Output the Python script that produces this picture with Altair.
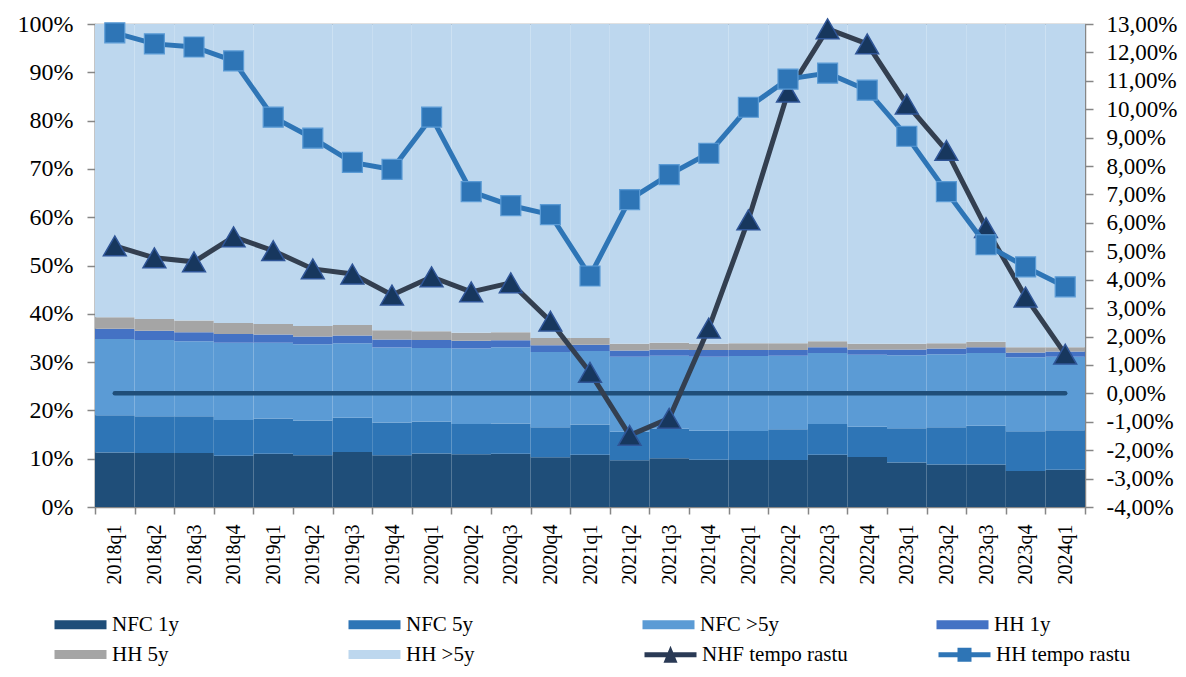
import altair as alt
import pandas as pd

categories = ["2018q1", "2018q2", "2018q3", "2018q4", "2019q1", "2019q2", "2019q3", "2019q4",
              "2020q1", "2020q2", "2020q3", "2020q4", "2021q1", "2021q2", "2021q3", "2021q4",
              "2022q1", "2022q2", "2022q3", "2022q4", "2023q1", "2023q2", "2023q3", "2023q4", "2024q1"]

# shares of the stacked columns, in percent
nfc_1y = [11.3, 11.2, 11.2, 10.6, 11.0, 10.7, 11.4, 10.7, 11.1, 10.9, 11.0, 10.3, 10.8,
          9.7, 10.1, 9.8, 9.75, 9.75, 10.8, 10.35, 9.2, 8.8, 8.8, 7.45, 7.7]
nfc_5y = [7.7, 7.6, 7.6, 7.4, 7.3, 7.2, 7.1, 6.8, 6.6, 6.3, 6.3, 6.2, 6.3,
          5.9, 6.1, 6.0, 6.0, 6.35, 6.4, 6.25, 7.1, 7.7, 8.0, 8.25, 8.2]
nfc_gt5y = [15.8, 15.8, 15.5, 16.0, 15.7, 15.8, 15.4, 15.5, 15.2, 15.6, 15.8, 15.6, 15.2,
            15.5, 15.1, 15.3, 15.5, 15.2, 14.7, 14.9, 15.1, 15.1, 15.1, 15.3, 15.2]
hh_1y = [2.1, 1.9, 1.9, 1.8, 1.7, 1.6, 1.6, 1.7, 1.7, 1.6, 1.4, 1.4, 1.3,
         1.3, 1.3, 1.4, 1.25, 1.2, 1.2, 1.1, 1.2, 1.2, 1.2, 1.0, 1.1]
hh_5y = [2.4, 2.4, 2.4, 2.3, 2.2, 2.2, 2.2, 1.9, 1.8, 1.7, 1.7, 1.5, 1.4,
         1.4, 1.4, 1.3, 1.4, 1.4, 1.2, 1.2, 1.2, 1.1, 1.1, 1.1, 0.9]
# HH >5y is the remainder up to 100%
hh_gt5y = [round(100 - (a + b + c + d + e), 2)
           for a, b, c, d, e in zip(nfc_1y, nfc_5y, nfc_gt5y, hh_1y, hh_5y)]

# growth rates, in percent (right axis)
nhf_rate = [5.19, 4.77, 4.63, 5.51, 5.02, 4.38, 4.20, 3.46, 4.10, 3.57, 3.89, 2.54, 0.74,
            -1.48, -0.88, 2.30, 6.11, 10.60, 12.83, 12.30, 10.18, 8.55, 5.83, 3.39, 1.38]
hh_rate = [12.69, 12.30, 12.19, 11.70, 9.72, 8.98, 8.13, 7.88, 9.72, 7.10, 6.61, 6.29, 4.13,
           6.82, 7.70, 8.45, 10.07, 11.06, 11.27, 10.67, 9.05, 7.10, 5.23, 4.45, 3.75]

series_names = ["NFC 1y", "NFC 5y", "NFC >5y", "HH 1y", "HH 5y", "HH >5y"]
area_colors = ["#1f4e79", "#2e75b6", "#5b9bd5", "#4472c4", "#a5a5a5", "#bdd7ee"]
line_names = ["NHF tempo rastu", "HH tempo rastu"]

FONT = "Liberation Serif"
GRAY = "#868686"

rows = []
for k, (name, vals) in enumerate(zip(series_names, [nfc_1y, nfc_5y, nfc_gt5y, hh_1y, hh_5y, hh_gt5y])):
    for q, v in zip(categories, vals):
        rows.append({"quarter": q, "series": name, "share": v, "idx": k})
bar_df = pd.DataFrame(rows)

nhf_df = pd.DataFrame({"quarter": categories, "rate": nhf_rate})
hh_df = pd.DataFrame({"quarter": categories, "rate": hh_rate})
cat_df = pd.DataFrame({"quarter": categories})

x_enc = alt.X("quarter:N", sort=categories,
              scale=alt.Scale(paddingInner=0, paddingOuter=0),
              axis=alt.Axis(title=None, labelAngle=-90, labelFont=FONT, labelFontSize=20,
                            labelColor="black", labelPadding=10, tickBand="extent", tickSize=7,
                            tickColor=GRAY, domainColor=GRAY, domainWidth=1.5, tickWidth=1.5))

right_axis = alt.Axis(orient="right", title=None, values=list(range(-4, 14)),
                      labelExpr="(datum.value < 0 ? '-' : '') + replace(format(abs(datum.value), '.2f'), '.', ',') + '%'",
                      labelFont=FONT, labelFontSize=23, labelColor="black", labelPadding=13,
                      tickSize=8, tickColor=GRAY, domainColor=GRAY, domainWidth=1.5, tickWidth=1.5,
                      grid=False)
right_scale = alt.Scale(domain=[-4, 13], nice=False, zero=False)

rect_path = "M-1,-0.45H4.2V0.45H-1Z"
nhf_path = "M-1,-0.25H4.2V0.25H-1Z M0.9,0.8L1.6,-0.9L2.3,0.8Z"
hh_path = "M-1,-0.25H4.2V0.25H-1Z M0.9,-0.7H2.3V0.7H0.9Z"

bars = alt.Chart(bar_df).mark_bar(strokeWidth=0).encode(
    x=x_enc,
    y=alt.Y("share:Q", stack="zero",
            scale=alt.Scale(domain=[0, 100], nice=False),
            axis=alt.Axis(title=None, values=list(range(0, 101, 10)),
                          labelExpr="datum.value + '%'", labelFont=FONT, labelFontSize=24,
                          labelColor="black", labelPadding=14, tickSize=8, tickColor=GRAY,
                          domainColor=GRAY, domainWidth=1.5, tickWidth=1.5, grid=False)),
    color=alt.Color("series:N", sort=series_names,
                    scale=alt.Scale(domain=series_names, range=area_colors),
                    legend=alt.Legend(title=None, orient="none", legendX=-41, legendY=590,
                                      direction="horizontal", columns=4, gridAlign="all",
                                      columnPadding=157, rowPadding=8, symbolType=rect_path,
                                      symbolSize=400, symbolStrokeWidth=0, symbolOpacity=1,
                                      labelFont=FONT, labelFontSize=21, labelColor="black",
                                      labelOffset=37, padding=0)),
    order=alt.Order("idx:Q", sort="ascending"),
)

zero_line = alt.Chart(cat_df).mark_line(color="#1f4e79", strokeWidth=4.5, strokeCap="round").encode(
    x=x_enc,
    y=alt.YDatum(0, scale=right_scale, axis=right_axis),
)

nhf_line = alt.Chart(nhf_df).mark_line(color="#333f50", strokeWidth=5).encode(
    x=x_enc, y=alt.Y("rate:Q", scale=right_scale, axis=right_axis))
nhf_pts = alt.Chart(nhf_df).mark_point(shape="triangle-up", filled=True, size=520, fill="#17375e",
                                       stroke="#2f5597", strokeWidth=1.5, opacity=1).encode(
    x=x_enc, y=alt.Y("rate:Q", scale=right_scale, axis=right_axis))
hh_line = alt.Chart(hh_df).mark_line(color="#2e75b6", strokeWidth=5).encode(
    x=x_enc, y=alt.Y("rate:Q", scale=right_scale, axis=right_axis))
hh_pts = alt.Chart(hh_df).mark_point(shape="square", filled=True, size=400, fill="#2e75b6",
                                     stroke="#5b9bd5", strokeWidth=1.2, opacity=1).encode(
    x=x_enc, y=alt.Y("rate:Q", scale=right_scale, axis=right_axis))

lines_group = alt.layer(zero_line, nhf_line, nhf_pts, hh_line, hh_pts)

line_leg = dict(title=None, orient="none", legendX=549, legendY=620,
                direction="horizontal", columns=2, gridAlign="all",
                columnPadding=90, symbolSize=400, symbolStrokeWidth=0,
                symbolOpacity=1, labelFont=FONT, labelFontSize=21,
                labelColor="black", labelOffset=37, padding=0)

line_legend = alt.Chart(pd.DataFrame({"series": line_names})).transform_filter("false").mark_point(
    filled=True, opacity=1).encode(
    fill=alt.Fill("series:N", sort=line_names,
                  scale=alt.Scale(domain=line_names, range=["#2a3a55", "#2e75b6"]),
                  legend=alt.Legend(**line_leg)),
    shape=alt.Shape("series:N", sort=line_names,
                    scale=alt.Scale(domain=line_names, range=[nhf_path, hh_path]),
                    legend=alt.Legend(**line_leg)),
)

chart = alt.layer(bars, lines_group, line_legend).resolve_scale(
    y="independent"
).properties(
    width=990, height=483,
    autosize=alt.AutoSizeParams(type="none"),
    padding={"left": 87, "top": 16, "right": 93, "bottom": 162},
    background="white",
).configure_view(stroke=GRAY, strokeWidth=1.2)

chart.save("out.html", embed_options={"renderer": "svg", "actions": False})
